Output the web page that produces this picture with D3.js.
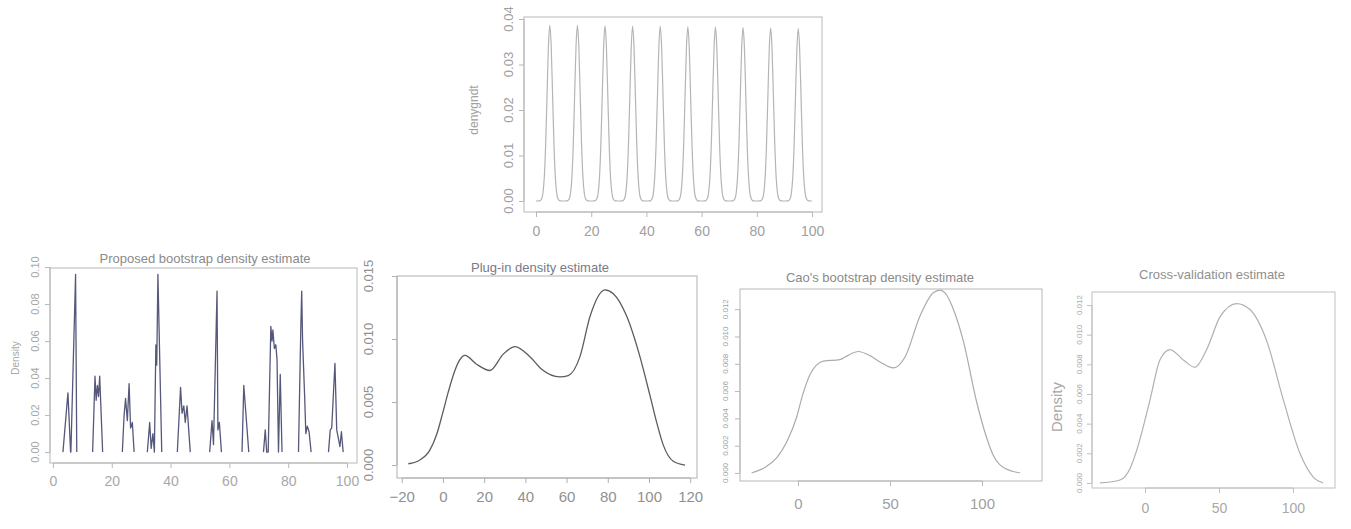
<!DOCTYPE html>
<html><head><meta charset="utf-8">
<script src="https://cdn.jsdelivr.net/npm/d3@7"></script>
<style>
body{margin:0;background:#fff}
svg{display:block}
text{font-family:"Liberation Sans",Arial,Helvetica,sans-serif}
</style>
</head><body>
<svg id="c" width="1351" height="529"></svg>
<script>
// ---------------- DATA ----------------
// Top panel: true density (ten equal bumps)
const topPeakCenters = [5, 15, 25, 35, 45, 55, 65, 75, 85, 95];
const topPeakHeights = [0.0386, 0.0386, 0.0385, 0.0384, 0.0384, 0.0383, 0.0382, 0.0381, 0.0380, 0.0379];
const topProfileOffsets = [-5, -4.5, -4, -3.5, -3, -2.5, -2, -1.5, -1, -0.5, 0, 0.5, 1, 1.5, 2, 2.5, 3, 3.5, 4, 4.5];
const topProfileShape   = [0, 0, 0.0003, 0.0022, 0.011, 0.044, 0.135, 0.325, 0.607, 0.882, 1, 0.882, 0.607, 0.325, 0.135, 0.044, 0.011, 0.0022, 0.0003, 0];
const topXTicks = [0, 20, 40, 60, 80, 100];
const topYTicks = [0, 0.01, 0.02, 0.03, 0.04];

// Proposed bootstrap density estimate (NaN = gap between clusters)
const bootX = [3.4, 5.1, 6.0, 6.1, 7.7, 8.1, NaN,
  13.5, 14.3, 14.7, 15.1, 15.5, 15.9, 16.9, NaN,
  23.6, 24.2, 24.7, 25.3, 25.9, 26.4, 27.0, 27.6, NaN,
  32.1, 32.9, 33.4, 34.0, 34.5, 35.0, 35.3, 35.7, 37.0, NaN,
  42.3, 43.4, 43.9, 44.5, 45.0, 45.6, 46.7, NaN,
  53.3, 54.1, 54.6, 55.8, 56.1, 56.6, 57.3, NaN,
  64.3, 64.9, 66.6, NaN,
  71.6, 72.2, 72.7, 73.2, 74.1, 74.5, 74.8, 75.3, 75.8, 76.2, 76.7, 77.3, 77.9, NaN,
  83.5, 84.3, 84.6, 84.9, 85.6, 86.0, 86.5, 87.1, 87.8, NaN,
  93.7, 94.3, 94.8, 95.9, 96.5, 97.0, 97.6, 98.1, 98.7];
const bootY = [0, 0.032, 0, 0, 0.096, 0, NaN,
  0, 0.041, 0.028, 0.036, 0.030, 0.041, 0, NaN,
  0, 0.020, 0.029, 0.017, 0.037, 0.013, 0.016, 0, NaN,
  0, 0.016, 0.002, 0.010, 0, 0.058, 0.047, 0.096, 0, NaN,
  0, 0.035, 0.021, 0.025, 0.016, 0.025, 0, NaN,
  0, 0.017, 0.004, 0.087, 0.012, 0.016, 0, NaN,
  0, 0.036, 0, NaN,
  0, 0.012, 0, 0, 0.068, 0.060, 0.066, 0.056, 0.058, 0.050, 0, 0.042, 0, NaN,
  0, 0.068, 0.087, 0.060, 0.030, 0.010, 0.014, 0.011, 0, NaN,
  0, 0.012, 0.013, 0.048, 0.012, 0.008, 0.003, 0.011, 0];
const bootXTicks = [0, 20, 40, 60, 80, 100];
const bootYTicks = [0, 0.02, 0.04, 0.06, 0.08, 0.10];

// Plug-in density estimate
const plugX = [-16.8, -11.2, -6.3, -3.1, 0, 2.6, 5.8, 8, 10.7, 16.3, 22.8, 29.3, 35, 42.2, 47.9, 56.8, 60.8, 66.5, 71.4, 78.6, 82.7, 89.2, 95.6, 100.5, 103.7, 106.9, 111.8, 117.5];
const plugY = [0.0001, 0.0004, 0.0012, 0.0024, 0.0042, 0.0058, 0.0075, 0.0083, 0.0087, 0.0080, 0.0075, 0.0088, 0.0094, 0.0086, 0.0076, 0.0070, 0.0071, 0.0086, 0.0118, 0.0139, 0.0136, 0.0118, 0.0086, 0.0055, 0.0034, 0.0016, 0.0003, 0.0];
const plugXTicks = [-20, 0, 20, 40, 60, 80, 100, 120];
const plugYTicks = [0, 0.005, 0.010, 0.015];

// Cao's bootstrap density estimate
const caoX = [-25.2, -18, -11.6, -6, -0.7, 2.5, 6.5, 10, 13.8, 22.8, 27, 32.8, 39.1, 45, 51.8, 58.2, 66.3, 73.5, 77.2, 79.9, 85, 89.8, 97.1, 102, 106.1, 113, 120.7];
const caoY = [0.0000, 0.0004, 0.0011, 0.0023, 0.0041, 0.0057, 0.0072, 0.0079, 0.0082, 0.0083, 0.0086, 0.0089, 0.0086, 0.0081, 0.0077, 0.0085, 0.0115, 0.0132, 0.0134, 0.0132, 0.0118, 0.0097, 0.0052, 0.0028, 0.0013, 0.0003, 0.0000];
const caoXTicks = [0, 50, 100];
const caoYTicks = [0, 0.002, 0.004, 0.006, 0.008, 0.010, 0.012];

// Cross-validation estimate
const cvX = [-30.4, -16.9, -10, -5.6, 3.4, 10.1, 16.9, 25.9, 33.8, 41.7, 50.7, 62, 70.9, 82.2, 93.5, 104.7, 113.7, 120.5];
const cvY = [0.0000, 0.0002, 0.0010, 0.0022, 0.0056, 0.0083, 0.0090, 0.0083, 0.0078, 0.0090, 0.0112, 0.0121, 0.0117, 0.0096, 0.0056, 0.0020, 0.0004, 0.0000];
const cvXTicks = [0, 50, 100];
const cvYTicks = [0, 0.002, 0.004, 0.006, 0.008, 0.010, 0.012];

// ---------------- BUILD TOP CURVE FROM PEAKS + PROFILE ----------------
const topX = [], topY = [];
topPeakCenters.forEach((c, i) => {
  topProfileOffsets.forEach((o, j) => { topX.push(c + o); topY.push(topPeakHeights[i] * topProfileShape[j]); });
});
topX.push(100); topY.push(0);

// ---------------- DRAW ----------------
const svg = d3.select("#c");

function panel(cfg) {
  const g = svg.append("g");
  const x = d3.scaleLinear().domain(cfg.xDom).range([cfg.L, cfg.R]);
  const y = d3.scaleLinear().domain(cfg.yDom).range([cfg.B, cfg.T]);
  g.append("rect").attr("x", cfg.L).attr("y", cfg.T).attr("width", cfg.R - cfg.L).attr("height", cfg.B - cfg.T)
    .attr("fill", "none").attr("stroke", cfg.axisColor).attr("stroke-width", 1);
  const xa = d3.axisBottom(x).tickValues(cfg.xTicks).tickSize(5).tickPadding(cfg.xPad).tickFormat(d3.format("d"));
  const gx = g.append("g").attr("transform", `translate(0,${cfg.B})`).call(xa);
  gx.select(".domain").attr("d", `M${x(cfg.xTicks[0])},0H${x(cfg.xTicks[cfg.xTicks.length - 1])}`).attr("stroke", cfg.axisColor);
  gx.selectAll(".tick line").attr("stroke", cfg.axisColor);
  gx.selectAll(".tick text").attr("fill", cfg.textColor).attr("font-size", cfg.xFont)
    .style("font-family", '"Liberation Sans",Arial,sans-serif');
  const ya = d3.axisLeft(y).tickValues(cfg.yTicks).tickSize(5).tickFormat(() => "");
  const gy = g.append("g").attr("transform", `translate(${cfg.L},0)`).call(ya);
  gy.select(".domain").attr("d", `M0,${y(cfg.yTicks[0])}V${y(cfg.yTicks[cfg.yTicks.length - 1])}`).attr("stroke", cfg.axisColor);
  gy.selectAll(".tick line").attr("stroke", cfg.axisColor);
  const fmt = d3.format(cfg.yFmt);
  g.selectAll(null).data(cfg.yTicks).enter().append("text")
    .attr("transform", d => `translate(${cfg.yLabX},${y(d)}) rotate(-90)`)
    .attr("text-anchor", "middle").attr("fill", cfg.textColor).attr("font-size", cfg.yFont)
    .text(d => fmt(d));
  if (cfg.title) g.append("text").attr("x", cfg.titleX).attr("y", cfg.titleY).attr("text-anchor", "middle")
    .attr("fill", cfg.titleColor).attr("font-size", 13).text(cfg.title);
  if (cfg.ytitle) g.append("text").attr("transform", `translate(${cfg.ytitleX},${cfg.ytitleY}) rotate(-90)`)
    .attr("text-anchor", "middle").attr("fill", cfg.textColor).attr("font-size", cfg.ytitleFont).text(cfg.ytitle);
  const pts = cfg.xs.map((v, i) => [v, cfg.ys[i]]);
  const line = d3.line().defined(d => !isNaN(d[0]) && !isNaN(d[1]))
    .x(d => x(d[0])).y(d => y(d[1])).curve(cfg.curve);
  g.append("path").datum(pts).attr("d", line).attr("fill", "none")
    .attr("stroke", cfg.lineColor).attr("stroke-width", cfg.lineWidth).attr("stroke-linejoin", "round");
}

panel({ L: 524, R: 822, T: 17, B: 212, xDom: [-4.35, 103.6], yDom: [-0.00242, 0.04044],
  xTicks: topXTicks, yTicks: topYTicks, yFmt: ".2f", xFont: 14, yFont: 13, xPad: 9, yLabX: 513,
  ytitle: "denygndt", ytitleX: 478, ytitleY: 110, ytitleFont: 12,
  xs: topX, ys: topY, curve: d3.curveMonotoneX, lineColor: "#b5b5b5", lineWidth: 1.2,
  axisColor: "#b8b8b8", textColor: "#a0a0a0", titleColor: "#999" });

panel({ L: 50, R: 357, T: 268, B: 463, xDom: [-1.0, 103.4], yDom: [-0.0059, 0.0995],
  xTicks: bootXTicks, yTicks: bootYTicks, yFmt: ".2f", xFont: 14, yFont: 11, xPad: 8, yLabX: 39,
  title: "Proposed bootstrap density estimate", titleX: 205, titleY: 263,
  ytitle: "Density", ytitleX: 19, ytitleY: 358, ytitleFont: 10,
  xs: bootX, ys: bootY, curve: d3.curveLinear, lineColor: "#55587a", lineWidth: 1.3,
  axisColor: "#b8b8b8", textColor: "#a8a8a8", titleColor: "#8a8a8a" });

panel({ L: 397, R: 697, T: 276, B: 478, xDom: [-22.3, 123.3], yDom: [-0.00103, 0.015],
  xTicks: plugXTicks, yTicks: plugYTicks, yFmt: ".3f", xFont: 15, yFont: 13, xPad: 8, yLabX: 373,
  title: "Plug-in density estimate", titleX: 540, titleY: 272,
  xs: plugX, ys: plugY, curve: d3.curveMonotoneX, lineColor: "#5c5c5c", lineWidth: 1.3,
  axisColor: "#b0b0b0", textColor: "#909090", titleColor: "#7a7a88" });

panel({ L: 740, R: 1042, T: 289, B: 481, xDom: [-31.5, 132.6], yDom: [-0.00059, 0.01348],
  xTicks: caoXTicks, yTicks: caoYTicks, yFmt: ".3f", xFont: 15, yFont: 8, xPad: 12, yLabX: 728,
  title: "Cao's bootstrap density estimate", titleX: 880, titleY: 282,
  xs: caoX, ys: caoY, curve: d3.curveMonotoneX, lineColor: "#ababab", lineWidth: 1.2,
  axisColor: "#b8b8b8", textColor: "#a0a0a0", titleColor: "#8a8a8a" });

panel({ L: 1092, R: 1335, T: 292, B: 488, xDom: [-35.8, 128.4], yDom: [-0.00034, 0.01288],
  xTicks: cvXTicks, yTicks: cvYTicks, yFmt: ".3f", xFont: 14, yFont: 8, xPad: 10, yLabX: 1082,
  title: "Cross-validation estimate", titleX: 1212, titleY: 279,
  ytitle: "Density", ytitleX: 1062, ytitleY: 407, ytitleFont: 15,
  xs: cvX, ys: cvY, curve: d3.curveMonotoneX, lineColor: "#b0b0b0", lineWidth: 1.2,
  axisColor: "#c0c0c0", textColor: "#a8a8a8", titleColor: "#8f8f8f" });
</script>
</body></html>
